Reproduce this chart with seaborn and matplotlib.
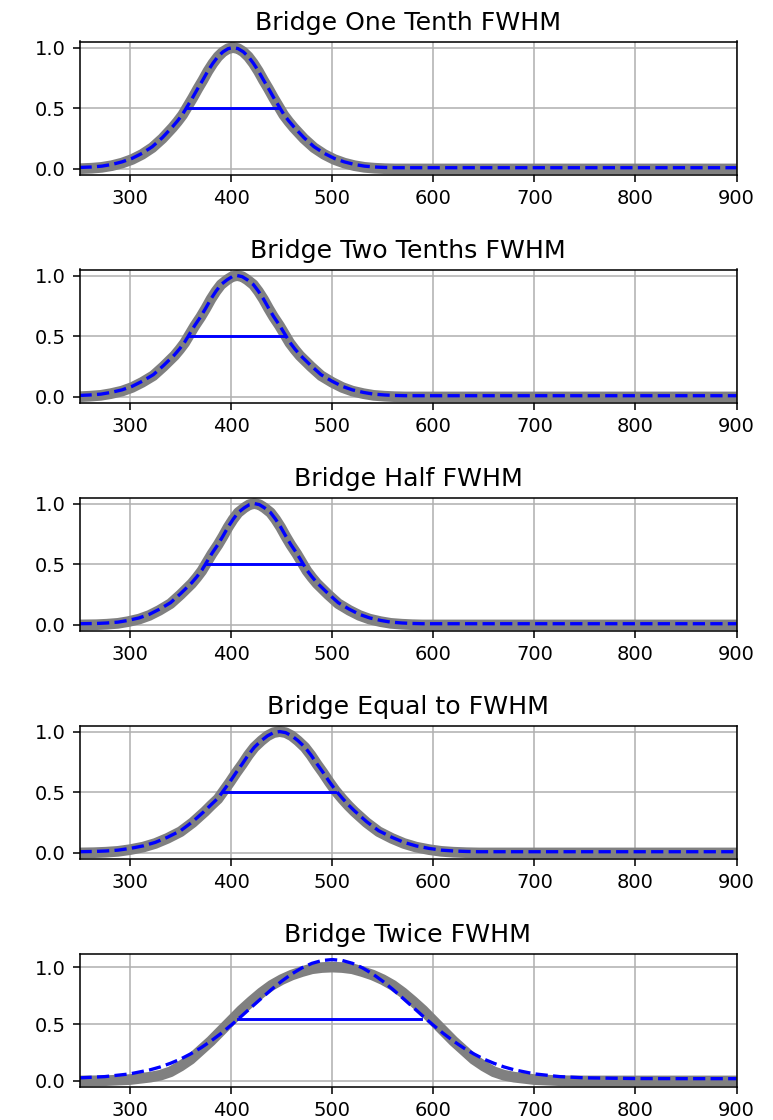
import matplotlib
matplotlib.use("Agg")
import matplotlib.pyplot as plt
import seaborn as sns

# ---------------- data ----------------
titles = ["Bridge One Tenth FWHM", "Bridge Two Tenths FWHM", "Bridge Half FWHM",
          "Bridge Equal to FWHM", "Bridge Twice FWHM"]

x_one_tenth = [250, 262, 272, 282, 292, 302, 312, 322, 332,
               342, 347, 352, 357, 362, 367, 372, 377, 382, 387, 392, 397, 402,
               407, 412, 417, 422, 427, 432, 437, 442, 447, 452, 457, 462,
               472, 482, 492, 502, 512, 522, 532, 542, 552, 562, 650, 750, 900]
grey_one_tenth = [0.002, 0.006, 0.013, 0.027, 0.048, 0.078, 0.120, 0.175, 0.250,
                  0.340, 0.390, 0.445, 0.515, 0.585, 0.660, 0.730, 0.805, 0.870, 0.925, 0.965, 0.991, 1.000,
                  0.991, 0.965, 0.925, 0.870, 0.805, 0.730, 0.660, 0.585, 0.515, 0.445, 0.390, 0.340,
                  0.250, 0.175, 0.120, 0.078, 0.048, 0.027, 0.013, 0.006, 0.002, 0.000, 0.000, 0.000, 0.000]
fit_one_tenth = [0.012, 0.016, 0.023, 0.037, 0.058, 0.087, 0.129, 0.183, 0.258,
                 0.347, 0.396, 0.451, 0.520, 0.589, 0.663, 0.733, 0.807, 0.871, 0.926, 0.965, 0.991, 1.000,
                 0.991, 0.965, 0.926, 0.871, 0.807, 0.733, 0.663, 0.589, 0.520, 0.451, 0.396, 0.347,
                 0.258, 0.183, 0.129, 0.087, 0.058, 0.037, 0.023, 0.016, 0.012, 0.010, 0.010, 0.010, 0.010]
half_one_tenth = [357, 447, 0.50]

x_two_tenths = [250, 260, 271, 281, 292, 302, 312, 323, 333,
                344, 349, 354, 359, 364, 370, 375, 380, 385, 390, 396, 401, 406,
                411, 416, 422, 427, 432, 437, 442, 448, 453, 458, 463, 468,
                479, 489, 500, 510, 520, 531, 541, 552, 562, 572, 650, 750, 900]
grey_two_tenths = [0.002, 0.006, 0.013, 0.027, 0.048, 0.078, 0.120, 0.175, 0.250,
                   0.340, 0.390, 0.445, 0.515, 0.585, 0.660, 0.730, 0.805, 0.870, 0.925, 0.965, 0.991, 1.000,
                   0.991, 0.965, 0.925, 0.870, 0.805, 0.730, 0.660, 0.585, 0.515, 0.445, 0.390, 0.340,
                   0.250, 0.175, 0.120, 0.078, 0.048, 0.027, 0.013, 0.006, 0.002, 0.000, 0.000, 0.000, 0.000]
fit_two_tenths = [0.012, 0.016, 0.023, 0.037, 0.058, 0.087, 0.129, 0.183, 0.258,
                  0.347, 0.396, 0.451, 0.520, 0.589, 0.663, 0.733, 0.807, 0.871, 0.926, 0.965, 0.991, 1.000,
                  0.991, 0.965, 0.926, 0.871, 0.807, 0.733, 0.663, 0.589, 0.520, 0.451, 0.396, 0.347,
                  0.258, 0.183, 0.129, 0.087, 0.058, 0.037, 0.023, 0.016, 0.012, 0.010, 0.010, 0.010, 0.010]
half_two_tenths = [359, 453, 0.50]

x_half = [250, 267, 277, 288, 298, 309, 319, 329, 340, 350,
          361, 366, 371, 376, 381, 387, 392, 397, 402, 407, 413, 418, 423,
          428, 433, 439, 444, 449, 454, 459, 465, 470, 475, 480, 485,
          496, 506, 517, 527, 537, 548, 558, 569, 579, 589, 650, 750, 900]
grey_half = [0.000, 0.002, 0.006, 0.013, 0.027, 0.048, 0.078, 0.120, 0.175, 0.250,
             0.340, 0.390, 0.445, 0.515, 0.585, 0.660, 0.730, 0.805, 0.870, 0.925, 0.965, 0.991, 1.000,
             0.991, 0.965, 0.925, 0.870, 0.805, 0.730, 0.660, 0.585, 0.515, 0.445, 0.390, 0.340,
             0.250, 0.175, 0.120, 0.078, 0.048, 0.027, 0.013, 0.006, 0.002, 0.000, 0.000, 0.000, 0.000]
fit_half = [0.010, 0.012, 0.016, 0.023, 0.037, 0.058, 0.087, 0.129, 0.183, 0.258,
            0.347, 0.396, 0.451, 0.520, 0.589, 0.663, 0.733, 0.807, 0.871, 0.926, 0.965, 0.991, 1.000,
            0.991, 0.965, 0.926, 0.871, 0.807, 0.733, 0.663, 0.589, 0.520, 0.451, 0.396, 0.347,
            0.258, 0.183, 0.129, 0.087, 0.058, 0.037, 0.023, 0.016, 0.012, 0.010, 0.010, 0.010, 0.010]
half_half = [376, 470, 0.50]

x_equal = [250, 264, 276, 288, 300, 313, 325, 337, 350, 362,
           374, 380, 387, 393, 399, 405, 411, 417, 423, 430, 436, 442, 448,
           454, 460, 466, 473, 479, 485, 491, 497, 503, 510, 516, 522,
           534, 546, 559, 571, 583, 596, 608, 620, 633, 645, 750, 900]
grey_equal = [0.000, 0.002, 0.006, 0.013, 0.027, 0.048, 0.078, 0.120, 0.175, 0.250,
              0.340, 0.390, 0.445, 0.515, 0.585, 0.660, 0.730, 0.805, 0.870, 0.925, 0.965, 0.991, 1.000,
              0.991, 0.965, 0.925, 0.870, 0.805, 0.730, 0.660, 0.585, 0.515, 0.445, 0.390, 0.340,
              0.250, 0.175, 0.120, 0.078, 0.048, 0.027, 0.013, 0.006, 0.002, 0.000, 0.000, 0.000]
fit_equal = [0.010, 0.012, 0.016, 0.023, 0.037, 0.058, 0.087, 0.129, 0.183, 0.258,
             0.347, 0.396, 0.451, 0.520, 0.589, 0.663, 0.733, 0.807, 0.871, 0.926, 0.965, 0.991, 1.000,
             0.991, 0.965, 0.926, 0.871, 0.807, 0.733, 0.663, 0.589, 0.520, 0.451, 0.396, 0.347,
             0.258, 0.183, 0.129, 0.087, 0.058, 0.037, 0.023, 0.016, 0.012, 0.010, 0.010, 0.010]
half_equal = [393, 503, 0.50]

x_twice = [250, 275, 300, 320, 330, 340, 350, 360, 370, 380, 390, 400, 410, 420, 430, 440,
           450, 460, 470, 480, 490, 500, 510, 520, 530, 540, 550, 560, 570, 580, 590, 600,
           610, 620, 630, 640, 650, 660, 670, 680, 700, 725, 750, 800, 850, 900]
grey_twice = [0.000, 0.002, 0.012, 0.033, 0.050, 0.080, 0.130, 0.190, 0.270, 0.350, 0.440,
              0.530, 0.620, 0.700, 0.775, 0.840, 0.890, 0.930, 0.960, 0.985, 0.996, 1.000,
              0.996, 0.985, 0.960, 0.930, 0.890, 0.840, 0.775, 0.700, 0.620, 0.530, 0.440,
              0.350, 0.270, 0.190, 0.130, 0.080, 0.050, 0.033, 0.012, 0.002, 0.000, 0.000,
              0.000, 0.000]
fit_twice = [0.027, 0.038, 0.062, 0.098, 0.123, 0.155, 0.192, 0.238, 0.290, 0.350, 0.417,
             0.490, 0.567, 0.647, 0.726, 0.804, 0.876, 0.940, 0.993, 1.033, 1.058, 1.066,
             1.058, 1.033, 0.993, 0.940, 0.876, 0.804, 0.726, 0.647, 0.567, 0.490, 0.417,
             0.350, 0.290, 0.238, 0.192, 0.155, 0.123, 0.098, 0.062, 0.038, 0.027, 0.021,
             0.020, 0.020]
half_twice = [407, 588, 0.545]

x_ticks = [300, 400, 500, 600, 700, 800, 900]
y_ticks = [0.0, 0.5, 1.0]

panels = [
    (titles[0], x_one_tenth, grey_one_tenth, fit_one_tenth, half_one_tenth),
    (titles[1], x_two_tenths, grey_two_tenths, fit_two_tenths, half_two_tenths),
    (titles[2], x_half, grey_half, fit_half, half_half),
    (titles[3], x_equal, grey_equal, fit_equal, half_equal),
    (titles[4], x_twice, grey_twice, fit_twice, half_twice),
]

# ---------------- drawing ----------------
W, H, DPI = 773, 1120, 140
fig = plt.figure(figsize=(W / DPI, H / DPI), dpi=DPI)
fig.patch.set_facecolor("white")

for i, (title, xs, grey, fit, half) in enumerate(panels):
    bottom_px = 175 + 228 * i
    ax = fig.add_axes([79.5 / W, 1 - bottom_px / H, 657 / W, 133.5 / H])
    sns.lineplot(x=xs, y=grey, color="gray", lw=5.5, ax=ax, sort=False, estimator=None)
    sns.lineplot(x=xs, y=fit, color="blue", lw=1.7, linestyle="--", ax=ax,
                 sort=False, estimator=None)
    sns.lineplot(x=[half[0], half[1]], y=[half[2], half[2]], color="blue", lw=1.5,
                 ax=ax, sort=False, estimator=None)
    ax.set_xlim(250, 900)
    ax.set_xticks(x_ticks)
    ax.set_yticks(y_ticks)
    ax.grid(True)
    ax.set_title(title, fontsize=13)
    ax.set_xlabel("")
    ax.set_ylabel("")
    ax.tick_params(labelsize=10)

fig.savefig("out.png", dpi=DPI)
